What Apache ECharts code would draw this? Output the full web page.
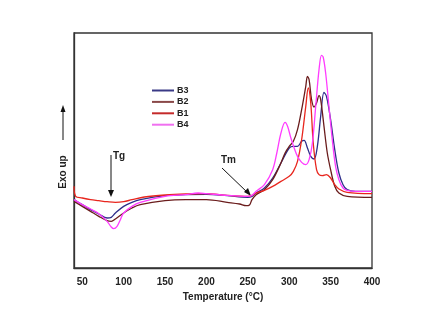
<!DOCTYPE html>
<html><head><meta charset="utf-8">
<script src="https://cdn.jsdelivr.net/npm/echarts@6/dist/echarts.min.js"></script>
<style>html,body{margin:0;padding:0;background:#fff}#c{width:433px;height:317px}</style>
</head><body><div id="c"></div>
<script>
// Temperature (°C) and heat-flow (arbitrary units, exo up)
const tB3 = [40,50,60,70,80,85,90,100,110,120,150,175,200,225,250,255,260,270,280,290,300,305,310,315,318,322,326,330,334,338,342,345,350,355,360,365,370,380,400];
const yB3 = [2.05,1.90,1.75,1.62,1.50,1.52,1.65,1.85,1.97,2.05,2.17,2.20,2.21,2.17,2.12,2.15,2.25,2.40,2.70,3.15,3.60,3.65,3.65,3.80,3.83,3.60,3.35,3.27,3.65,4.55,5.27,5.15,4.45,3.55,2.85,2.50,2.35,2.30,2.30];
const tB2 = [40,50,60,70,80,85,90,100,110,120,150,175,200,225,240,248,252,255,260,270,280,290,295,300,305,310,315,320,322,324,327,330,333,336,338,342,346,350,355,360,370,400];
const yB2 = [2.00,1.85,1.70,1.55,1.42,1.40,1.47,1.65,1.80,1.90,2.02,2.05,2.05,1.97,1.92,1.87,1.89,2.05,2.20,2.35,2.65,3.15,3.45,3.65,3.80,4.15,4.75,5.45,5.75,5.65,5.05,4.83,4.95,5.17,5.05,4.25,3.45,2.95,2.45,2.25,2.15,2.12];
const tB1 = [40,42,50,60,70,80,90,100,110,125,150,175,200,225,250,255,260,270,280,290,300,305,310,315,320,323,326,329,333,336,340,345,350,355,360,370,400];
const yB1 = [2.45,2.15,2.10,2.05,2.02,1.99,1.97,1.99,2.05,2.13,2.19,2.22,2.23,2.18,2.15,2.18,2.25,2.33,2.45,2.60,2.75,2.90,3.20,3.85,4.85,5.40,4.95,3.75,2.95,2.80,2.77,2.80,2.70,2.50,2.37,2.27,2.23];
const tB4 = [40,50,60,70,80,85,88,92,96,100,110,120,150,175,190,200,225,250,255,260,270,280,285,290,295,298,302,306,310,315,320,324,328,332,336,339,341,344,348,352,356,360,365,370,380,400];
const yB4 = [2.05,1.90,1.77,1.63,1.40,1.23,1.18,1.25,1.45,1.65,1.85,1.97,2.15,2.20,2.25,2.23,2.18,2.15,2.18,2.30,2.50,2.95,3.45,4.05,4.37,4.25,3.90,3.60,3.35,3.17,3.10,3.25,3.75,4.85,5.95,6.38,6.33,5.85,4.85,3.85,3.05,2.65,2.40,2.33,2.30,2.30];
const xTicks = [50,100,150,200,250,300,350,400];

const seriesDefs = [
  {name:'B3', t:tB3, y:yB3, color:'#2e2e8a'},
  {name:'B2', t:tB2, y:yB2, color:'#6a1c1c'},
  {name:'B1', t:tB1, y:yB1, color:'#e8261e'},
  {name:'B4', t:tB4, y:yB4, color:'#ff3cff'}
];
const legendColors = {B3:'#3a3a86', B2:'#8a4848', B1:'#c42a2a', B4:'#f070f0'};
const chart = echarts.init(document.getElementById('c'), null, {renderer:'canvas'});
const font = 'Arial, "Liberation Sans", sans-serif';
chart.setOption({
  animation:false,
  backgroundColor:'#fff',
  grid:{left:74,right:61,top:33,bottom:49,show:true,borderColor:'#333',borderWidth:1.3},
  legend:{
    orient:'vertical', left:147, top:81, itemWidth:22, itemHeight:9, itemGap:2.4,
    icon:'path://M0,0 L22,0 L22,2 L0,2 Z',
    textStyle:{fontFamily:font,fontWeight:'bold',fontSize:9,color:'#222',padding:[0,0,0,-2]},
    data:seriesDefs.map(s=>({name:s.name,itemStyle:{color:legendColors[s.name]}}))
  },
  xAxis:{
    type:'value', min:40, max:400,
    axisLine:{show:true,lineStyle:{color:'#333',width:1.3}},
    axisTick:{show:false}, splitLine:{show:false},
    axisLabel:{fontFamily:font,fontWeight:'bold',fontSize:10,color:'#222',margin:9,
      customValues:xTicks},
    name:'Temperature (°C)', nameLocation:'middle', nameGap:23,
    nameTextStyle:{fontFamily:font,fontWeight:'bold',fontSize:10,color:'#222'}
  },
  yAxis:{
    type:'value', min:0, max:7.05,
    axisLine:{show:true,lineStyle:{color:'#333',width:1.3}},
    axisTick:{show:false}, axisLabel:{show:false}, splitLine:{show:false}
  },
  series: seriesDefs.map(s=>({
    name:s.name, type:'line', smooth:0.35, symbol:'none',
    data:s.t.map((t,i)=>[t,s.y[i]]),
    lineStyle:{color:s.color,width:1.3}, itemStyle:{color:s.color},
    z: s.name==='B4'?5:(s.name==='B1'?4:3)
  })),
  graphic:[
    {type:'text', left:113, top:151, style:{text:'Tg',font:'bold 10px '+font,fill:'#222'}},
    {type:'line', shape:{x1:111,y1:155,x2:111,y2:192}, style:{stroke:'#111',lineWidth:1}},
    {type:'polygon', shape:{points:[[108,190],[114,190],[111,197]]}, style:{fill:'#111'}},
    {type:'text', left:221, top:155, style:{text:'Tm',font:'bold 10px '+font,fill:'#222'}},
    {type:'line', shape:{x1:222,y1:168,x2:248,y2:193}, style:{stroke:'#111',lineWidth:1}},
    {type:'polygon', shape:{points:[[244,192],[248,188],[251,196]]}, style:{fill:'#111'}},
    {type:'text', x:63, y:172, rotation:Math.PI/2, style:{text:'Exo up',font:'bold 10px '+font,fill:'#222',align:'center',verticalAlign:'middle'}},
    {type:'line', shape:{x1:63,y1:140,x2:63,y2:110}, style:{stroke:'#111',lineWidth:1}},
    {type:'polygon', shape:{points:[[60.5,112],[65.5,112],[63,105]]}, style:{fill:'#111'}}
  ]
});
</script></body></html>
